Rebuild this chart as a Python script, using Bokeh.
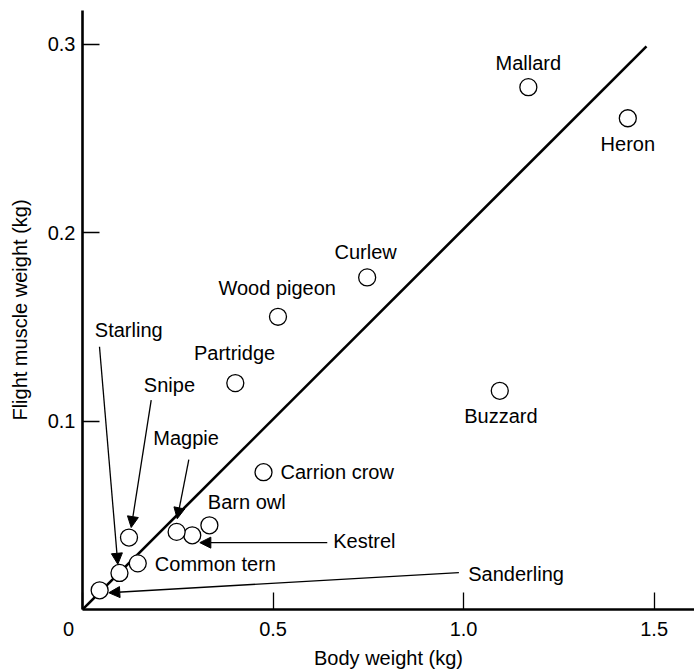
from bokeh.plotting import figure
from bokeh.models import Range1d, ColumnDataSource, Arrow, NormalHead, FixedTicker
from bokeh.core.properties import value
from bokeh.embed import file_html
from bokeh.resources import INLINE

# ---- data ----
birds = ["Mallard", "Heron", "Curlew", "Wood pigeon", "Partridge", "Buzzard",
         "Carrion crow", "Barn owl", "Kestrel", "Magpie", "Snipe",
         "Common tern", "Starling", "Sanderling"]
body_weight = [1.170, 1.431, 0.747, 0.513, 0.401, 1.095,
               0.475, 0.333, 0.288, 0.247, 0.122,
               0.145, 0.097, 0.045]
muscle_weight = [0.2773, 0.2608, 0.1763, 0.1554, 0.1202, 0.1161,
                 0.0729, 0.0447, 0.0394, 0.0412, 0.0382,
                 0.0245, 0.0194, 0.0102]
fit_slope = 0.202
fit_x = [0.0, 1.48]
fit_y = [fit_slope * v for v in fit_x]
x_ticks = [0.0, 0.5, 1.0, 1.5]
x_tick_labels = ["0" + "\u00a0" * 5, "0.5", "1.0", "1.5"]
y_ticks = [0.1, 0.2, 0.3]
y_tick_labels = ["0.1", "0.2", "0.3"]

# ---- annotation layout (label anchors, in data units) ----
center_names = ["Mallard", "Heron", "Curlew", "Wood pigeon", "Partridge", "Buzzard"]
center_lx = [1.170, 1.431, 0.743, 0.511, 0.399, 1.098]
center_ly = [0.2901, 0.2473, 0.1897, 0.1706, 0.1363, 0.1028]
left_names = ["Starling", "Snipe", "Magpie", "Carrion crow", "Barn owl",
              "Kestrel", "Common tern", "Sanderling"]
left_lx = [0.0323, 0.161, 0.1856, 0.5197, 0.3289, 0.658, 0.1898, 1.0123]
left_ly = [0.1485, 0.1193, 0.0909, 0.0729, 0.0569, 0.0366, 0.0242, 0.0191]
arrow_x0 = [0.0446, 0.1803, 0.279, 0.6423, 0.9877]
arrow_y0 = [0.1395, 0.1112, 0.0796, 0.0355, 0.0196]
arrow_x1 = [0.0927, 0.1278, 0.2486, 0.3079, 0.069]
arrow_y1 = [0.0240, 0.0435, 0.0482, 0.0355, 0.0089]

FONT = "Liberation Sans"
FS = "20px"

p = figure(width=694, height=671,
           x_range=Range1d(0, 1.606), y_range=Range1d(0, 0.318),
           output_backend="svg", toolbar_location=None,
           min_border_left=82, min_border_right=0,
           min_border_top=10, min_border_bottom=62)
p.grid.visible = False
p.outline_line_color = None
p.background_fill_color = "white"
p.border_fill_color = "white"

for ax in (p.xaxis[0], p.yaxis[0]):
    ax.axis_line_width = 2.6
    ax.axis_line_color = "black"
    ax.major_tick_in = 17
    ax.major_tick_out = 0
    ax.major_tick_line_width = 1.3
    ax.major_tick_line_color = "black"
    ax.minor_tick_line_color = None
    ax.major_label_text_font = FONT
    ax.major_label_text_font_size = FS
    ax.major_label_text_color = "black"
    ax.axis_label_text_font = FONT
    ax.axis_label_text_font_size = FS
    ax.axis_label_text_font_style = "normal"
    ax.axis_label_text_color = "black"

p.xaxis.ticker = FixedTicker(ticks=x_ticks)
p.xaxis.major_label_overrides = dict(zip(x_ticks, x_tick_labels))
p.yaxis.ticker = FixedTicker(ticks=y_ticks)
p.yaxis.major_label_overrides = dict(zip(y_ticks, y_tick_labels))
p.xaxis.axis_label = "Body weight (kg)"
p.yaxis.axis_label = "Flight muscle weight (kg)"
p.xaxis.major_label_standoff = 8
p.xaxis.axis_label_standoff = 4
p.yaxis.major_label_standoff = 7
p.yaxis.axis_label_standoff = 14

p.line(fit_x, fit_y, line_width=2.6, color="black")

src = ColumnDataSource(dict(x=body_weight, y=muscle_weight, name=birds))
p.scatter("x", "y", source=src, size=17, fill_color="white",
          line_color="black", line_width=1.3)

csrc = ColumnDataSource(dict(x=center_lx, y=center_ly, t=center_names))
p.text("x", "y", text="t", source=csrc, text_align="center", text_baseline="middle",
       text_font=value(FONT), text_font_size=FS, text_color="black")
lsrc = ColumnDataSource(dict(x=left_lx, y=left_ly, t=left_names))
p.text("x", "y", text="t", source=lsrc, text_align="left", text_baseline="middle",
       text_font=value(FONT), text_font_size=FS, text_color="black")

asrc = ColumnDataSource(dict(x0=arrow_x0, y0=arrow_y0, x1=arrow_x1, y1=arrow_y1))
p.add_layout(Arrow(end=NormalHead(size=11, fill_color="black", line_color="black", line_width=1),
                   x_start="x0", y_start="y0", x_end="x1", y_end="y1",
                   source=asrc, line_width=1.3, line_color="black"))

open("out.html", "w").write(file_html(p, INLINE))
